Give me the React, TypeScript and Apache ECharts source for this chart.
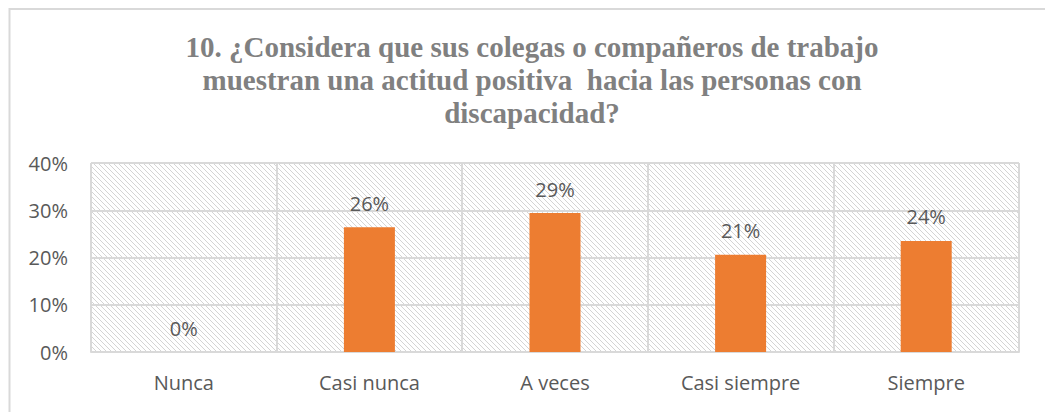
import React, { useEffect, useRef } from "react";
import * as echarts from "echarts";

const titleText =
  "10. ¿Considera que sus colegas o compañeros de trabajo\nmuestran una actitud positiva  hacia las personas con\ndiscapacidad?";
const categories = ["Nunca", "Casi nunca", "A veces", "Casi siempre", "Siempre"];
const values = [0, 26.4, 29.4, 20.6, 23.5];
const yMin = 0;
const yMax = 40;
const yStep = 10;

const hatchSvg =
  "data:image/svg+xml;charset=utf-8," +
  encodeURIComponent(
    '<svg xmlns="http://www.w3.org/2000/svg" width="5" height="5">' +
      '<path d="M0,0 L5,5 M-1,4 L1,6 M4,-1 L6,1" stroke="#cfcfcf" stroke-width="0.9" fill="none"/>' +
      "</svg>"
  );

export default function App() {
  const ref = useRef<HTMLDivElement>(null);
  useEffect(() => {
    if (!ref.current) return;
    const chart = echarts.init(ref.current, null, { renderer: "svg" });
    const gridColor = "#d9d9d9";
    const labelColor = "#595959";
    chart.setOption({
      animation: false,
      backgroundColor: "#ffffff",
      title: {
        text: titleText,
        left: 532,
        top: 30,
        textAlign: "center",
        padding: 0,
        textStyle: {
          fontFamily: "Liberation Serif",
          fontWeight: "bold",
          fontSize: 29,
          lineHeight: 33,
          color: "#808080",
        },
      },
      graphic: [
        {
          type: "rect",
          shape: { x: 9.5, y: 9, width: 1100, height: 500 },
          style: { fill: "none", stroke: gridColor, lineWidth: 2 },
          silent: true,
        },
      ],
      grid: {
        left: 91,
        right: 26,
        top: 163,
        bottom: 60,
        show: true,
        borderWidth: 0,
        backgroundColor: {
          image: hatchSvg,
          repeat: "repeat",
          imageWidth: 5,
          imageHeight: 5,
        },
        containLabel: false,
      },
      xAxis: {
        type: "category",
        data: categories,
        boundaryGap: true,
        axisLine: { show: true, lineStyle: { color: gridColor, width: 2 } },
        axisTick: { show: false },
        splitLine: { show: true, lineStyle: { color: gridColor, width: 2 } },
        axisLabel: {
          color: labelColor,
          fontFamily: "Open Sans",
          fontSize: 20,
          margin: 20,
          interval: 0,
        },
      },
      yAxis: {
        type: "value",
        min: yMin,
        max: yMax,
        interval: yStep,
        axisLine: { show: false },
        axisTick: { show: false },
        splitLine: { show: true, lineStyle: { color: gridColor, width: 2 } },
        axisLabel: {
          color: labelColor,
          fontFamily: "Open Sans",
          fontSize: 20,
          margin: 23,
          formatter: "{value}%",
        },
      },
      series: [
        {
          type: "bar",
          data: values,
          barWidth: 51,
          itemStyle: { color: "#ED7D31" },
          label: {
            show: true,
            position: "top",
            distance: 14,
            color: labelColor,
            fontFamily: "Open Sans",
            fontSize: 20,
            formatter: (p: any) => Math.round(p.value) + "%",
          },
        },
      ],
    });
    return () => chart.dispose();
  }, []);
  return (
    <div
      ref={ref}
      style={{ position: "fixed", left: 0, top: 0, width: 1045, height: 412 }}
    />
  );
}
